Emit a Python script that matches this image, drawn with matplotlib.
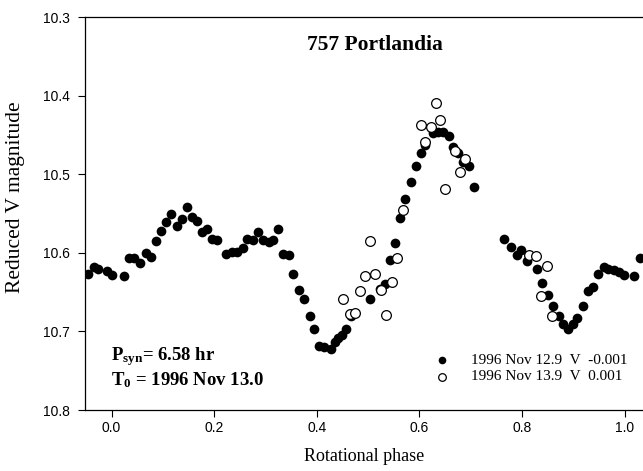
import matplotlib
matplotlib.use("Agg")
import matplotlib.pyplot as plt

plt.rcParams['mathtext.fontset'] = 'custom'
plt.rcParams['mathtext.rm'] = 'Liberation Serif'
plt.rcParams['mathtext.bf'] = 'Liberation Serif:bold'
plt.rcParams['mathtext.default'] = 'bf'

# Night 1 (1996 Nov 12.9) - filled circles
phase_n1 = [-0.045, -0.035, -0.026, -0.009, 0.000, 0.025, 0.035, 0.044, 0.056, 0.067,
            0.076, 0.087, 0.096, 0.106, 0.115, 0.127, 0.137, 0.147, 0.156, 0.166,
            0.176, 0.186, 0.195, 0.206, 0.223, 0.234, 0.244, 0.256, 0.265, 0.275,
            0.285, 0.295, 0.306, 0.315, 0.325, 0.335, 0.345, 0.354, 0.366, 0.375,
            0.386, 0.395, 0.405, 0.415, 0.428, 0.436, 0.442, 0.449, 0.458, 0.467,
            0.503, 0.523, 0.533, 0.542, 0.553, 0.562, 0.572, 0.583, 0.593, 0.603,
            0.611, 0.627, 0.637, 0.647, 0.657, 0.666, 0.676, 0.686, 0.697, 0.707,
            0.765, 0.778, 0.790, 0.798, 0.809, 0.830, 0.839, 0.850, 0.861, 0.873,
            0.881, 0.889, 0.900, 0.908, 0.920, 0.929, 0.939, 0.949, 0.960, 0.968,
            0.980, 0.990, 0.998, 1.019, 1.030]
mag_n1 = [10.627, 10.618, 10.621, 10.623, 10.628, 10.629, 10.607, 10.606, 10.613, 10.600,
          10.605, 10.585, 10.572, 10.561, 10.551, 10.566, 10.557, 10.542, 10.554, 10.560,
          10.574, 10.570, 10.583, 10.584, 10.602, 10.599, 10.599, 10.594, 10.582, 10.584,
          10.573, 10.584, 10.586, 10.584, 10.570, 10.601, 10.603, 10.627, 10.647, 10.659,
          10.681, 10.697, 10.719, 10.720, 10.722, 10.713, 10.709, 10.705, 10.697, 10.680,
          10.659, 10.646, 10.640, 10.609, 10.587, 10.556, 10.532, 10.510, 10.490, 10.473,
          10.463, 10.447, 10.446, 10.446, 10.452, 10.465, 10.473, 10.484, 10.490, 10.516,
          10.582, 10.592, 10.603, 10.596, 10.610, 10.621, 10.638, 10.654, 10.668, 10.680,
          10.691, 10.697, 10.690, 10.683, 10.668, 10.649, 10.643, 10.627, 10.618, 10.620,
          10.622, 10.625, 10.628, 10.629, 10.607]

# Night 2 (1996 Nov 13.9) - open circles
phase_n2 = [0.451, 0.464, 0.475, 0.484, 0.494, 0.504, 0.514, 0.525, 0.535, 0.546,
            0.556, 0.568, 0.603, 0.612, 0.622, 0.632, 0.640, 0.650, 0.670, 0.680,
            0.689, 0.813, 0.827, 0.837, 0.848, 0.858]
mag_n2 = [10.659, 10.678, 10.676, 10.649, 10.629, 10.585, 10.627, 10.647, 10.679, 10.637,
          10.607, 10.546, 10.437, 10.459, 10.440, 10.409, 10.431, 10.519, 10.470, 10.497,
          10.481, 10.603, 10.604, 10.655, 10.617, 10.681]

x_ticks = [0.0, 0.2, 0.4, 0.6, 0.8, 1.0]
y_ticks = [10.3, 10.4, 10.5, 10.6, 10.7, 10.8]
legend_labels = ["1996 Nov 12.9  V  -0.001", "1996 Nov 13.9  V  0.001"]

serif = ["Liberation Serif", "DejaVu Serif"]
sans = ["Liberation Sans", "DejaVu Sans"]

fig = plt.figure(figsize=(6.43, 4.71), dpi=100)
ax = fig.add_axes([0.1322, 0.1295, 0.8678, 0.8344])

ax.plot(phase_n1, mag_n1, 'o', color='black', markersize=7, markeredgewidth=0, zorder=2)
ax.plot(phase_n2, mag_n2, 'o', markerfacecolor='white', markeredgecolor='black',
        markersize=7, markeredgewidth=0.9, zorder=3)

ax.set_xlim(-0.0517, 1.036)
ax.set_ylim(10.8, 10.3)
ax.set_xticks(x_ticks)
ax.set_xticklabels([f"{t:.1f}" for t in x_ticks], fontfamily=sans, fontsize=10)
ax.set_yticks(y_ticks)
ax.set_yticklabels([f"{t:.1f}" for t in y_ticks], fontfamily=sans, fontsize=10)
ax.tick_params(axis='x', direction='out', length=5, width=0.8, pad=3)
ax.tick_params(axis='y', direction='out', length=5, width=0.8, pad=6)
ax.spines['right'].set_visible(False)
for s in ['left', 'bottom', 'top']:
    ax.spines[s].set_linewidth(0.9)

ax.set_xlabel("Rotational phase", fontfamily=serif, fontsize=13, labelpad=9)
ax.set_ylabel("Reduced V magnitude", fontfamily=serif, fontsize=15.5)
ax.yaxis.set_label_coords(-0.107, 0.542)

ax.text(0.52, 0.929, "757 Portlandia", transform=ax.transAxes, ha='center', va='center',
        fontfamily=serif, fontsize=15.5, fontweight='bold')
ax.text(0.046, 0.135, r"P$_{syn}$= 6.58 hr", transform=ax.transAxes, ha='left',
        va='center', fontfamily=serif, fontsize=13.5, fontweight='bold')
ax.text(0.046, 0.076, r"T$_{0}$ = 1996 Nov 13.0", transform=ax.transAxes, ha='left',
        va='center', fontfamily=serif, fontsize=13.5, fontweight='bold')

# legend
ax.plot([0.645], [10.737], 'o', color='black', markersize=5.5, markeredgewidth=0)
ax.plot([0.645], [10.758], 'o', markerfacecolor='white', markeredgecolor='black',
        markersize=5.5, markeredgewidth=0.9)
ax.text(0.7, 10.737, legend_labels[0], ha='left', va='center', fontfamily=serif, fontsize=11)
ax.text(0.7, 10.758, legend_labels[1], ha='left', va='center', fontfamily=serif, fontsize=11)

fig.savefig("out.png", dpi=100)
